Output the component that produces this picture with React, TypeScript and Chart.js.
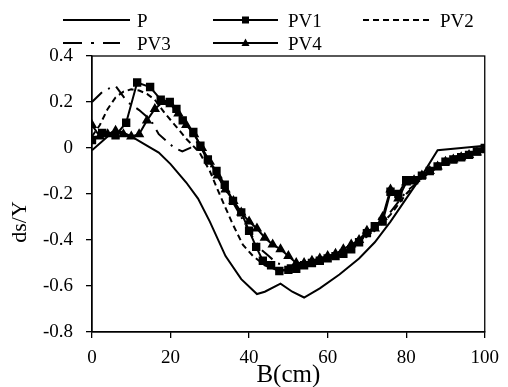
import React, { useEffect, useRef } from "react";
import { Chart, registerables } from "chart.js";

Chart.register(...registerables);

// ---- data ----
const seriesNames = ["P", "PV1", "PV2", "PV3", "PV4"];
const xTicks = [0, 20, 40, 60, 80, 100];
const yTicks = [-0.8, -0.6, -0.4, -0.2, 0, 0.2, 0.4];
const xTitle = "B(cm)";
const yTitle = "ds/Y";

const pX = [0, 5, 7.5, 10, 13, 17, 20, 24, 27, 30, 34, 38, 42, 44, 48, 51, 54, 58, 63, 68, 72, 76, 80, 84, 88, 94, 100];
const pY = [-0.01, 0.065, 0.07, 0.05, 0.02, -0.02, -0.07, -0.15, -0.22, -0.32, -0.47, -0.57, -0.635, -0.625, -0.59, -0.625, -0.65, -0.61, -0.55, -0.48, -0.41, -0.32, -0.22, -0.12, -0.01, 0.0, 0.01];

const pv1X = [0, 2.6, 6, 8.7, 11.5, 14.8, 17.5, 19.8, 21.5, 23.1, 25.8, 27.6, 29.5, 31.7, 33.8, 35.9, 38, 40, 41.8, 43.5, 45.6, 47.7, 50, 52, 54, 56, 58, 60, 62, 64, 66, 68, 70, 72, 74, 76, 78, 80, 82, 84, 86, 88, 90, 92, 94, 96, 98, 100];
const pv1Y = [0.035, 0.065, 0.055, 0.11, 0.285, 0.265, 0.21, 0.2, 0.17, 0.12, 0.07, 0.01, -0.05, -0.1, -0.16, -0.23, -0.28, -0.36, -0.43, -0.49, -0.51, -0.535, -0.53, -0.525, -0.51, -0.5, -0.49, -0.48, -0.47, -0.46, -0.44, -0.41, -0.37, -0.34, -0.32, -0.19, -0.2, -0.14, -0.14, -0.12, -0.1, -0.08, -0.06, -0.05, -0.04, -0.03, -0.015, 0.0];

const pv2X = [0, 2, 4, 6, 8, 10, 12, 14, 16, 18.6, 21.6, 24, 27.4, 30, 31.7, 34, 35.8, 38.4, 41, 44, 47, 50, 53, 56, 60, 64, 68, 72, 76, 80, 84, 88, 92, 96, 100];
const pv2Y = [0.05, 0.1, 0.17, 0.22, 0.245, 0.255, 0.25, 0.235, 0.21, 0.15, 0.09, 0.04, -0.02, -0.1, -0.17, -0.26, -0.33, -0.42, -0.47, -0.51, -0.53, -0.53, -0.52, -0.5, -0.48, -0.45, -0.41, -0.36, -0.29, -0.2, -0.13, -0.07, -0.04, -0.02, -0.01];

const pv3X = [0, 3, 6, 9, 12, 15, 17, 19, 21, 23, 25, 27, 29, 31, 33, 35, 37, 39, 41, 43, 45, 47, 49, 51, 55, 60, 65, 70, 75, 80, 85, 90, 95, 100];
const pv3Y = [0.2, 0.25, 0.27, 0.2, 0.165, 0.12, 0.06, 0.03, 0.0, -0.015, 0.0, 0.03, -0.04, -0.1, -0.15, -0.21, -0.27, -0.33, -0.39, -0.44, -0.47, -0.5, -0.51, -0.51, -0.5, -0.48, -0.44, -0.38, -0.3, -0.19, -0.12, -0.06, -0.03, -0.01];

const pv4X = [0, 2, 4, 6, 8, 10, 12, 14, 16, 18, 20, 22, 24, 26, 28, 30, 32, 34, 36, 38, 40, 42, 44, 46, 48, 50, 52, 54, 56, 58, 60, 62, 64, 66, 68, 70, 72, 74, 76, 78, 80, 82, 84, 86, 88, 90, 92, 94, 96, 98, 100];
const pv4Y = [0.1, 0.05, 0.06, 0.075, 0.06, 0.05, 0.06, 0.12, 0.17, 0.2, 0.19, 0.15, 0.1, 0.06, 0.0, -0.06, -0.12, -0.18, -0.23, -0.28, -0.32, -0.35, -0.39, -0.42, -0.44, -0.47, -0.5, -0.5, -0.49, -0.48, -0.47, -0.46, -0.44, -0.42, -0.4, -0.36, -0.35, -0.3, -0.18, -0.22, -0.15, -0.14, -0.12, -0.1, -0.08, -0.06, -0.05, -0.04, -0.03, -0.02, -0.01];

const FONT = "'Liberation Serif', 'Times New Roman', serif";

const pts = (xs: number[], ys: number[]) => xs.map((x, i) => ({ x, y: ys[i] }));

// legend layout (styles only)
const legendItems = [
  { name: seriesNames[0], x0: 63, x1: 130, tx: 137, y: 20, dash: [] as number[], marker: "" },
  { name: seriesNames[1], x0: 213, x1: 278, tx: 288, y: 20, dash: [] as number[], marker: "rect" },
  { name: seriesNames[2], x0: 363, x1: 430, tx: 440, y: 20, dash: [6, 4], marker: "" },
  { name: seriesNames[3], x0: 63, x1: 120, tx: 137, y: 43, dash: [19, 9, 3, 9], marker: "" },
  { name: seriesNames[4], x0: 213, x1: 278, tx: 288, y: 43, dash: [] as number[], marker: "triangle" },
];

const decorPlugin = {
  id: "decor",
  afterDraw(chart: any) {
    const ctx = chart.ctx as CanvasRenderingContext2D;
    const a = chart.chartArea;
    ctx.save();
    // frame
    ctx.strokeStyle = "#000";
    ctx.lineWidth = 1.3;
    ctx.setLineDash([]);
    ctx.strokeRect(a.left, a.top, a.right - a.left, a.bottom - a.top);
    // legend
    ctx.font = `19px ${FONT}`;
    ctx.fillStyle = "#000";
    ctx.textBaseline = "alphabetic";
    ctx.textAlign = "left";
    for (const it of legendItems) {
      ctx.lineWidth = 2.2;
      ctx.setLineDash(it.dash);
      ctx.beginPath();
      ctx.moveTo(it.x0, it.y);
      ctx.lineTo(it.x1, it.y);
      ctx.stroke();
      ctx.setLineDash([]);
      const cx = (it.x0 + it.x1) / 2;
      if (it.marker === "rect") {
        ctx.fillRect(cx - 3.5, it.y - 3.5, 7, 7);
      } else if (it.marker === "triangle") {
        ctx.beginPath();
        ctx.moveTo(cx, it.y - 4.5);
        ctx.lineTo(cx + 4, it.y + 3);
        ctx.lineTo(cx - 4, it.y + 3);
        ctx.closePath();
        ctx.fill();
      }
      ctx.fillText(it.name, it.tx, it.y + 7);
    }
    // x title
    ctx.font = `25px ${FONT}`;
    ctx.textAlign = "center";
    ctx.fillText(xTitle, (a.left + a.right) / 2, 382);
    // y title
    ctx.font = `22px ${FONT}`;
    ctx.translate(26, 222);
    ctx.rotate(-Math.PI / 2);
    ctx.textAlign = "center";
    ctx.fillText(yTitle, 0, 0);
    ctx.restore();
  },
};

export default function App() {
  const ref = useRef<HTMLCanvasElement | null>(null);
  useEffect(() => {
    if (!ref.current) return;
    const base = { borderColor: "#000", backgroundColor: "#000", borderWidth: 2, tension: 0, fill: false };
    const chart = new Chart(ref.current, {
      type: "line",
      data: {
        datasets: [
          { ...base, label: seriesNames[0], data: pts(pX, pY), pointRadius: 0 },
          { ...base, label: seriesNames[1], data: pts(pv1X, pv1Y), pointRadius: 4.5, pointStyle: "rect" },
          { ...base, label: seriesNames[2], data: pts(pv2X, pv2Y), pointRadius: 0, borderDash: [6, 4] },
          { ...base, label: seriesNames[3], data: pts(pv3X, pv3Y), pointRadius: 0, borderDash: [14, 7, 2, 7] },
          { ...base, label: seriesNames[4], data: pts(pv4X, pv4Y), pointRadius: 4, pointStyle: "triangle" },
        ] as any,
      },
      options: {
        responsive: false,
        devicePixelRatio: 1,
        animation: false,
        layout: { padding: { top: 56, right: 21, left: 0, bottom: 0 } },
        plugins: { legend: { display: false }, tooltip: { enabled: false } },
        scales: {
          x: {
            type: "linear",
            min: 0,
            max: 100,
            afterBuildTicks: (s: any) => { s.ticks = xTicks.map((v) => ({ value: v })); },
            afterFit: (s: any) => { s.height = 55; },
            ticks: { color: "#000", font: { family: FONT, size: 19 }, padding: 9, maxRotation: 0 },
            grid: { drawOnChartArea: false, color: "#000", tickLength: 6, lineWidth: 1.3 },
            border: { color: "#000", width: 1.3 },
          },
          y: {
            type: "linear",
            min: -0.8,
            max: 0.4,
            afterBuildTicks: (s: any) => { s.ticks = yTicks.map((v) => ({ value: v })); },
            afterFit: (s: any) => { s.width = 92; },
            ticks: {
              color: "#000",
              font: { family: FONT, size: 19 },
              padding: 13,
              callback: (v: any) => String(Math.round(Number(v) * 10) / 10),
            },
            grid: { drawOnChartArea: false, color: "#000", tickLength: 6, lineWidth: 1.3 },
            border: { color: "#000", width: 1.3 },
          },
        },
      } as any,
      plugins: [decorPlugin],
    });
    return () => chart.destroy();
  }, []);
  return (
    <div style={{ position: "absolute", left: 0, top: 0, width: 508, height: 387, background: "#fff" }}>
      <canvas ref={ref} width={508} height={387} />
    </div>
  );
}
